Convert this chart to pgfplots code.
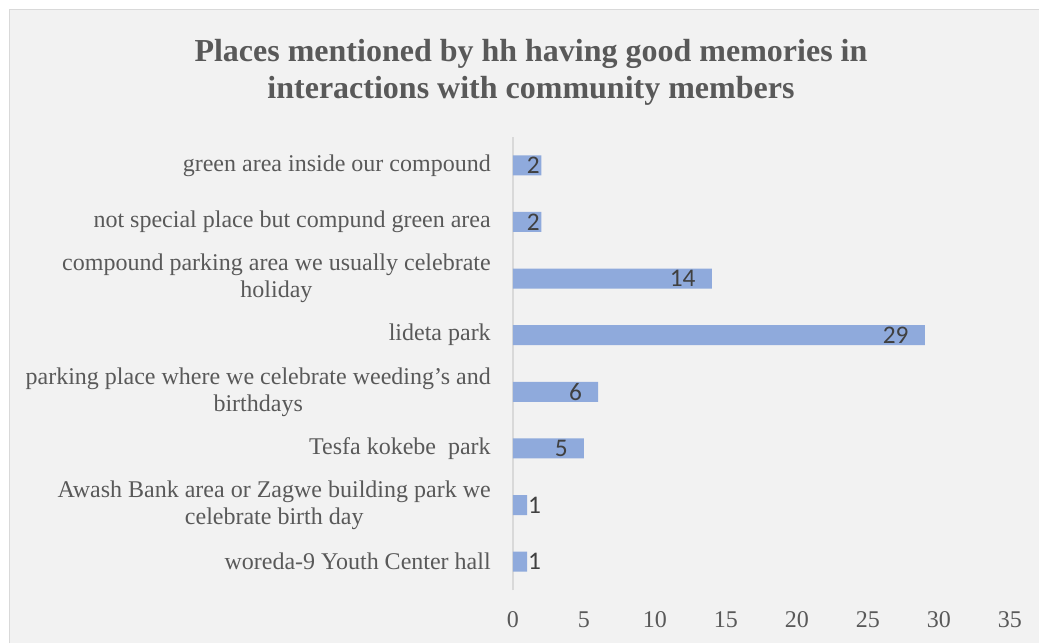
\documentclass[border=0pt]{standalone}
\usepackage{fontspec}
\setmainfont{Liberation Serif}
\newfontfamily\carlito{Carlito}
\usepackage{pgfplots}
\pgfplotsset{compat=1.18}
\definecolor{bg}{HTML}{F2F2F2}
\definecolor{barc}{HTML}{8FAADC}
\definecolor{txt}{HTML}{595959}
\definecolor{lbl}{HTML}{404040}
\definecolor{gl}{HTML}{D9D9D9}
\begin{document}
\begin{tikzpicture}
\useasboundingbox (-384.75pt,-39.75pt) rectangle (394.5pt,442.5pt);
\fill[white] (-384.75pt,-39.75pt) rectangle (394.5pt,442.5pt);
\fill[bg] (-377.25pt,-39.75pt) rectangle (394.5pt,435pt);
\draw[gl, line width=0.75pt] (-377.25pt,-39.75pt) -- (-377.25pt,435pt) -- (394.5pt,435pt);
\begin{axis}[
  at={(0pt,0pt)}, anchor=south west,
  width=372.75pt, height=339.75pt, scale only axis,
  xbar, bar width=15pt,
  xmin=0, xmax=35, ymin=-0.5, ymax=7.5,
  xtick={0,5,...,35}, ytick={0,...,7},
  yticklabels={
    {woreda-9 Youth Center hall},
    {Awash Bank area or Zagwe building park we\\celebrate birth day},
    {Tesfa kokebe\ \ park},
    {parking place where we celebrate weeding’s and\\birthdays},
    {lideta park},
    {compound parking area we usually celebrate\\holiday},
    {not special place but compund green area},
    {green area inside our compound}},
  axis lines*=left, axis line style={-},
  x axis line style={draw=none},
  y axis line style={draw=gl, line width=1.5pt},
  major tick length=0pt,
  tick label style={font=\fontsize{18}{20.25}\selectfont, text=txt},
  xticklabel style={anchor=north, inner sep=0pt, yshift=-16pt},
  yticklabel style={align=center, anchor=east, inner sep=0pt, xshift=-16.5pt},
  /pgf/number format/assume math mode=true,
  clip=false,
]
\addplot[xbar, bar shift=0pt, fill=barc, draw=none,
  nodes near coords,
  every node near coord/.append style={anchor=east, xshift=-12pt, inner sep=0pt, font=\carlito\fontsize{19}{19}\selectfont, text=lbl}]
  coordinates {(5,2) (6,3) (29,4) (14,5)};
\addplot[xbar, bar shift=0pt, fill=barc, draw=none,
  nodes near coords,
  every node near coord/.append style={anchor=east, xshift=-1pt, inner sep=0pt, font=\carlito\fontsize{19}{19}\selectfont, text=lbl}]
  coordinates {(2,6) (2,7)};
\addplot[xbar, bar shift=0pt, fill=barc, draw=none,
  nodes near coords,
  every node near coord/.append style={anchor=west, xshift=0.5pt, inner sep=0pt, font=\carlito\fontsize{19}{19}\selectfont, text=lbl}]
  coordinates {(1,0) (1,1)};
\end{axis}
\node[font=\bfseries\fontsize{24}{27.75}\selectfont, text=txt, align=center] at (13.5pt,388pt)
  {Places mentioned by hh having good memories in\\interactions with community members};
\end{tikzpicture}
\end{document}
